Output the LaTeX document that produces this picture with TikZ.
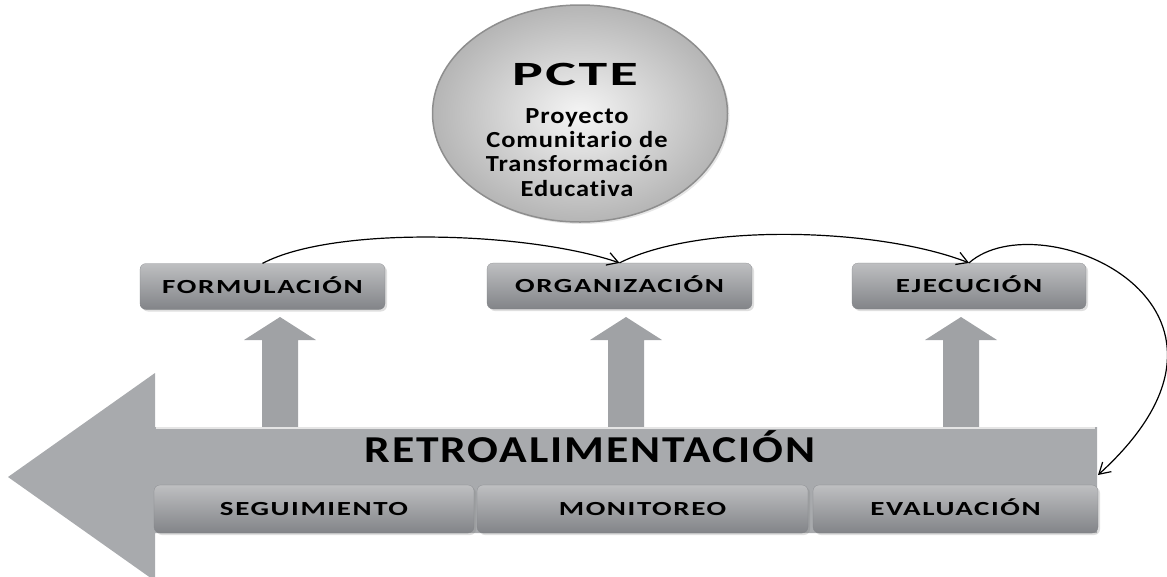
\documentclass[tikz,border=0pt]{standalone}
\usepackage{fontspec}
\setmainfont{Carlito}[Ligatures=NoCommon]
\newfontfamily\labelfont{Carlito}[FakeStretch=1.45,LetterSpace=8,Ligatures=NoCommon]
\newfontfamily\retrofont{Carlito}[FakeStretch=1.2,LetterSpace=5,Ligatures=NoCommon]
\newfontfamily\titlefont{Carlito}[FakeStretch=1.7,LetterSpace=7,Ligatures=NoCommon]
\newfontfamily\subfont{Carlito}[FakeStretch=1.15,LetterSpace=4,Ligatures=NoCommon]
\usetikzlibrary{shapes.geometric,arrows.meta,shadows}

\definecolor{boxtop}{HTML}{BEBFC1}
\definecolor{boxbot}{HTML}{828488}
\definecolor{retrogray}{HTML}{A8AAAD}
\definecolor{upgray}{HTML}{A0A2A5}
\definecolor{ringgray}{HTML}{8E8E8E}

\tikzset{
  stage/.style={rectangle, rounded corners=6pt, top color=boxtop, bottom color=boxbot,
    draw=boxbot, very thin, minimum height=46pt, inner sep=0pt,
    text height=13pt, text depth=0pt,
    font=\labelfont\fontsize{20}{24}\selectfont\bfseries,
    drop shadow={opacity=0.25, shadow xshift=2pt, shadow yshift=-2pt}},
  flow/.style={line width=1.2pt, -{Straight Barb[length=11pt,width=13pt,line width=1.2pt]}}
}

\begin{document}
\begin{tikzpicture}[x=1pt, y=-1pt]
\useasboundingbox (0,0) rectangle (1167,576);

% PCTE
\node[ellipse, minimum width=295pt, minimum height=217pt, inner color=white!92!gray,
  outer color=gray!58, draw=ringgray, line width=1.5pt,
  drop shadow={opacity=0.2, shadow xshift=2pt, shadow yshift=-2pt}] (pcte) at (580,113.5) {};
\node[anchor=base, inner sep=0pt, font=\titlefont\fontsize{34}{40}\selectfont\bfseries] (pcte-t) at (575,85) {PCTE};
\node[anchor=north, inner sep=0pt, align=center, font=\subfont\fontsize{23}{24.3}\selectfont\bfseries] (pcte-s) at (577,108)
  {Proyecto\\Comunitario de\\Transformación\\Educativa};

% up arrows
\foreach \x in {280,626,961}
  \fill[upgray] (\x-18,427) -- (\x-18,340) -- (\x-36,340) -- (\x,317) -- (\x+36,340)
    -- (\x+18,340) -- (\x+18,427) -- cycle;

% big arrow
\fill[retrogray] (155,427) -- (1097,427) -- (1097,533) -- (155,533) -- (155,581)
  -- (8,477) -- (155,373) -- cycle;
\draw[white!80!gray, line width=1.5pt] (156,428) -- (1095,428);
\node[anchor=base, inner sep=0pt, font=\retrofont\fontsize{38}{44}\selectfont\bfseries] (retro) at (590,462) {RETROALIMENTACIÓN};
\coordinate (retro-e) at (1098,475);

% stages
\node[stage, minimum width=245pt] (form) at (262.5,286.5) {FORMULACIÓN};
\node[stage, minimum width=265pt] (org) at (619.5,286) {ORGANIZACIÓN};
\node[stage, minimum width=234pt] (ejec) at (969,286) {EJECUCIÓN};

\node[stage, minimum width=320pt, minimum height=48pt] (seg) at (314,509) {SEGUIMIENTO};
\node[stage, minimum width=331pt, minimum height=48pt] (mon) at (642.5,509) {MONITOREO};
\node[stage, minimum width=285pt, minimum height=48pt] (eval) at (955.5,509) {EVALUACIÓN};

% links
\draw[flow] (form.north) .. controls (335,225) and (530,232) .. (org.north);
\draw[flow] (org.north) .. controls (700,222) and (880,228) .. (ejec.north);
\draw[flow] (ejec.north) .. controls (1040,200) and (1285,305) .. (retro-e);

\end{tikzpicture}
\end{document}
